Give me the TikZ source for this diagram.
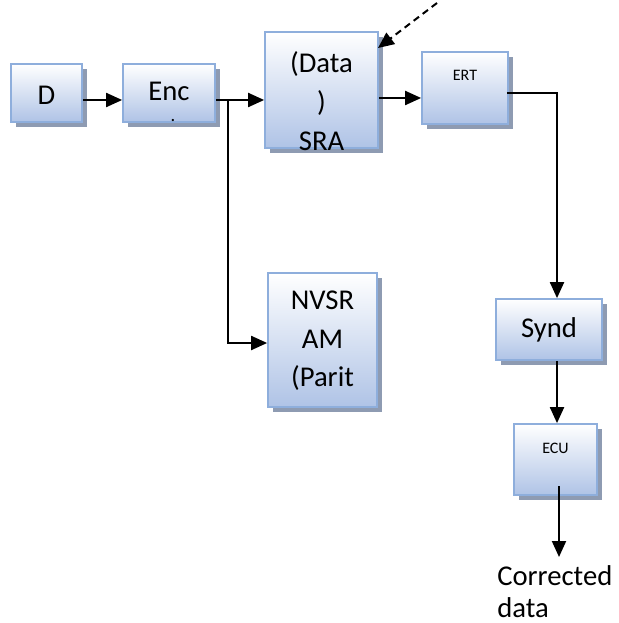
\documentclass[tikz,border=0pt]{standalone}
\usepackage{fontspec}
\setmainfont{Carlito}
\usetikzlibrary{arrows.meta,shadows}
\definecolor{boxline}{HTML}{8EAEDC}
\definecolor{boxbottom}{HTML}{AFC3E6}
\definecolor{shadowc}{HTML}{8E9BB2}
\tikzset{
  block/.style={draw=boxline, line width=1.3pt, top color=white, bottom color=boxbottom,
    inner sep=0pt, minimum width=#1, drop shadow={shadow xshift=3.5pt, shadow yshift=-3.5pt, fill=shadowc, opacity=1}},
  big/.style={font=\fontsize{21.5}{29}\selectfont, align=center, inner sep=0pt},
  small/.style={font=\fontsize{12}{14}\selectfont, inner sep=0pt},
  conn/.style={line width=1.5pt, -{Triangle[length=12pt,width=10.5pt]}},
}
\begin{document}
\begin{tikzpicture}[x=0.75pt, y=-0.75pt]
\useasboundingbox (0,0) rectangle (618,623);

% blocks (sizes given in pt: px * 0.75)
\node[block=53.25pt, minimum height=43.5pt] (d)    at (46.5,93)  {};
\node[block=69pt,    minimum height=43.5pt] (enc)  at (169,93)   {};
\node[block=84.75pt, minimum height=87pt]   (sra)  at (321.5,90) {};
\node[block=64.5pt,  minimum height=54pt]   (ert)  at (465,88)   {};
\node[block=81.75pt, minimum height=100.5pt](nvsr) at (322.5,340){};
\node[block=79.5pt,  minimum height=45.75pt](synd) at (549,329.5){};
\node[block=62.25pt, minimum height=53.25pt](ecu)  at (555.5,459.5){};

% block texts
\node[big] (dt) at (46.5,95) {D};
\node[big] (enct) at (169,91) {Enc};
\node[font=\fontsize{14}{14}\selectfont, inner sep=0pt, anchor=base] (encdot) at (173,122) {.};
\node[big] (srat) at (321.5,101) {(Data\\)\\SRA};
\node[small] (ertt) at (465,75) {ERT};
\node[big] (nvsrt) at (322.5,341) {NVSR\\AM\\(Parit};
\node[big] (syndt) at (549,330) {Synd};
\node[small] (ecut) at (555.5,448) {ECU};
\node[big, font=\fontsize{21.5}{23.5}\selectfont, align=left, anchor=base west] (out) at (497,617) {Corrected\\data};

% connector helpers
\coordinate (r1) at (0,100);
\coordinate (r2) at (0,343);
\coordinate (r3) at (0,98);
\coordinate (r4) at (0,93);
\coordinate (br) at (228,100);
\coordinate (cx) at (557,0);
\coordinate (ecuout) at (559,486);
\coordinate (outtop) at (559,557);
\coordinate (ext) at (437,3);
\coordinate (sratip) at (378,48);

% connectors
\draw[conn] (d.east|-r1) -- (enc.west|-r1);
\draw[conn] (enc.east|-r1) -- (sra.west|-r1);
\draw[conn] (br) |- (nvsr.west|-r2);
\draw[conn] (sra.east|-r3) -- (ert.west|-r3);
\draw[conn] ([xshift=-1.5pt]ert.east|-r4) -| (synd.north-|cx);
\draw[conn] (synd.south-|cx) -- (ecu.north-|cx);
\draw[conn] (ecuout) -- (outtop);
\draw[conn, dash pattern=on 5pt off 3.5pt] (ext) -- (sratip);
\end{tikzpicture}
\end{document}
